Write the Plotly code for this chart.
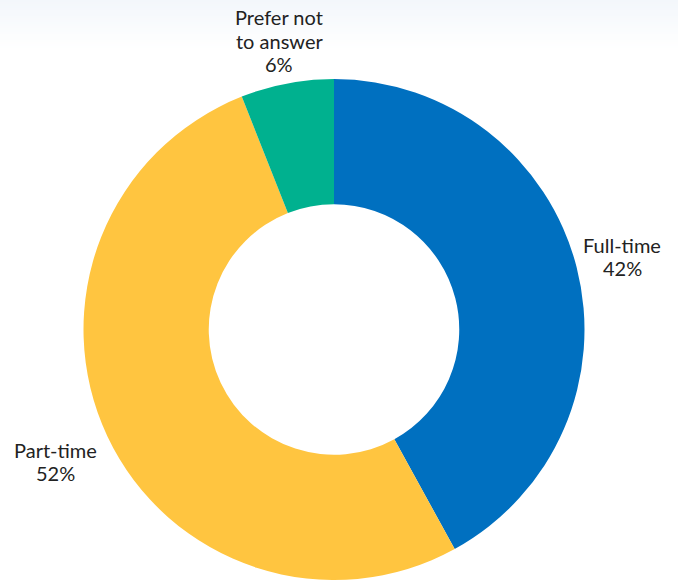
import numpy as np
import plotly.graph_objects as go

# Employment status breakdown
categories = ["Full-time", "Part-time", "Prefer not to answer"]
label_lines = [["Full-time"], ["Part-time"], ["Prefer not", "to answer"]]
shares = [42, 52, 6]
colors = ["#0070C0", "#FFC540", "#00B18F"]

# label placement relative to the outer edge at each slice's mid-angle (px)
label_dx = [45.7, -52.3, -8.0]
label_dy = [-16.5, 19.5, -60.0]
line_gap = 23.5

W, H = 678, 581
cx_px, cy_px = 334.0, 329.5
radius = 250.5

fig = go.Figure(
    go.Pie(
        labels=categories,
        values=shares,
        textinfo="none",
        hole=0.5,
        sort=False,
        direction="clockwise",
        rotation=0,
        marker=dict(colors=colors, line=dict(width=0)),
        domain=dict(
            x=[(cx_px - radius - 40) / W, (cx_px + radius + 40) / W],
            y=[1 - (cy_px + radius) / H, 1 - (cy_px - radius) / H],
        ),
        showlegend=False,
        hoverinfo="label+percent",
    )
)

# slice labels placed around the ring at each mid-angle
total = float(sum(shares))
cum = np.cumsum([0] + shares[:-1])
annotations = []
for i, v in enumerate(shares):
    mid = (cum[i] + v / 2.0) / total * 2 * np.pi
    ax = cx_px + radius * np.sin(mid)
    ay = cy_px - radius * np.cos(mid)
    lines = label_lines[i] + [f"{v}%"]
    for j, line in enumerate(lines):
        baseline = ay + label_dy[i] + j * line_gap
        annotations.append(dict(
            x=(ax + label_dx[i]) / W, y=1 - (baseline - 6) / H,
            xref="paper", yref="paper",
            xanchor="center", yanchor="middle",
            text=line, showarrow=False,
            font=dict(family="Lato", size=20, color="#222222"),
        ))

# faint header band fading into white
shapes = []
steps = 24
band_px = 48
for k in range(steps):
    t = k / steps
    r = int(round(243 + (255 - 243) * t))
    g = int(round(247 + (255 - 247) * t))
    b = int(round(251 + (255 - 251) * t))
    shapes.append(dict(
        type="rect", xref="paper", yref="paper",
        x0=0, x1=1,
        y0=1 - (k + 1) * band_px / steps / H,
        y1=1 - k * band_px / steps / H,
        fillcolor=f"rgb({r},{g},{b})", line=dict(width=0), layer="below",
    ))

fig.update_layout(
    width=W, height=H,
    margin=dict(l=0, r=0, t=0, b=0),
    paper_bgcolor="white",
    plot_bgcolor="white",
    shapes=shapes,
    annotations=annotations,
)

fig.write_html("out.html")
